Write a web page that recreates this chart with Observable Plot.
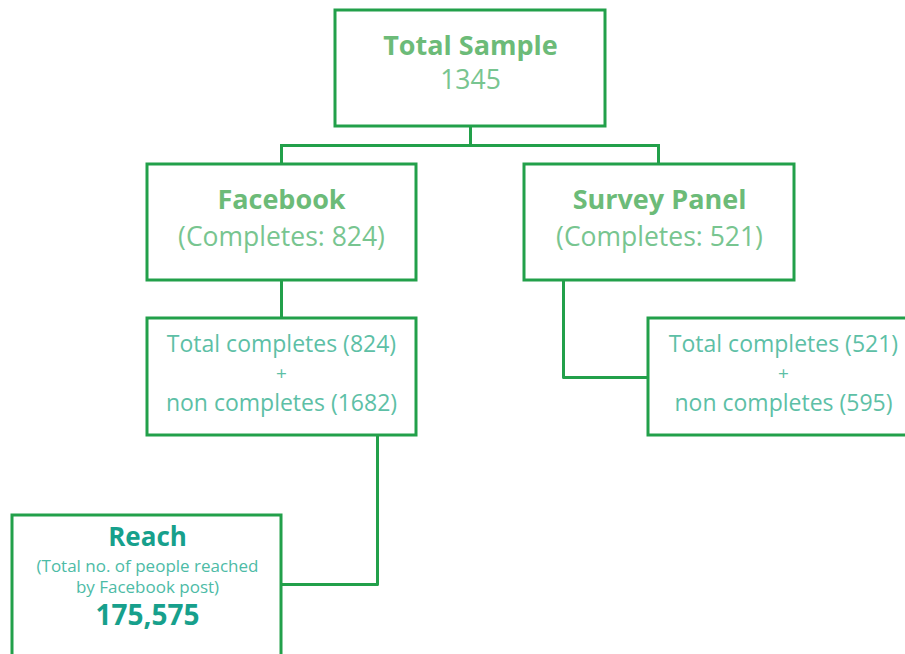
<!DOCTYPE html>
<html>
<head>
<meta charset="utf-8">
<script src="https://cdn.jsdelivr.net/npm/d3@7"></script>
<script src="https://cdn.jsdelivr.net/npm/@observablehq/plot@0.6"></script>
<style>
  html, body { margin: 0; padding: 0; background: #ffffff; }
  #chart svg { display: block; }
</style>
</head>
<body>
<div id="chart"></div>
<script>
// Boxes of the flowchart
const boxNames  = ["Total Sample", "Facebook", "Survey Panel", "Facebook detail", "Survey detail", "Reach"];
const boxLeft   = [335, 147, 524, 147, 648, 12];
const boxRight  = [605, 416, 794, 416, 915, 281];
const boxTop    = [10, 164, 164, 318, 318, 515];
const boxBottom = [126, 280, 280, 435, 435, 668];

// Connector polylines (id, x, y)
const linkId = [1, 1, 2, 2, 3, 3, 4, 4, 5, 5, 6, 6, 6, 7, 7, 7];
const linkX  = [470, 470, 281, 658, 281, 281, 658, 658, 281, 281, 563, 563, 648, 377, 377, 281];
const linkY  = [126, 145, 145, 145, 145, 164, 145, 164, 280, 318, 280, 377, 377, 435, 584, 584];

// Text labels
const titleText = ["Total Sample", "Facebook", "Survey Panel"];
const titleX = [470, 281, 659];
const titleY = [46, 200, 200];

const countText = ["1345", "(Completes: 824)", "(Completes: 521)"];
const countX = [470, 281, 659];
const countY = [80, 237, 237];

const detailText = ["Total completes (824)", "non completes (1682)",
                    "Total completes (521)", "non completes (595)"];
const detailX = [281, 281, 783, 783];
const detailY = [344, 403, 344, 403];

const plusText = ["+", "+"];
const plusX = [281, 783];
const plusY = [373, 373];

const reachHead = ["Reach"];
const reachHeadX = [147];
const reachHeadY = [537];
const reachNum = ["175,575"];
const reachNumX = [147];
const reachNumY = [616];
const reachSub = ["(Total no. of people reached", "by Facebook post)"];
const reachSubX = [147, 147];
const reachSubY = [566, 587];

const boxes = boxNames.map((n, i) => ({name: n, x1: boxLeft[i], x2: boxRight[i], y1: boxTop[i], y2: boxBottom[i]}));
const links = linkId.map((id, i) => ({id, x: linkX[i], y: linkY[i]}));
const mk = (t, xs, ys) => t.map((s, i) => ({text: s, x: xs[i], y: ys[i]}));

const font = "'Open Sans', 'Noto Sans', sans-serif";
const strokeGreen = "#22a04a";

const chart = Plot.plot({
  width: 905,
  height: 654,
  margin: 0,
  x: {domain: [0, 905], axis: null},
  y: {domain: [0, 654], reverse: true, axis: null},
  style: {fontFamily: font, background: "#ffffff"},
  marks: [
    Plot.line(links, {x: "x", y: "y", z: "id", stroke: strokeGreen, strokeWidth: 3, strokeLinecap: "square"}),
    Plot.rect(boxes, {x1: "x1", x2: "x2", y1: "y1", y2: "y2", fill: "white", stroke: strokeGreen, strokeWidth: 3}),
    Plot.text(mk(titleText, titleX, titleY), {x: "x", y: "y", text: "text", fontSize: 27, fontWeight: "bold", fill: "#6cbb78"}),
    Plot.text(mk(countText, countX, countY), {x: "x", y: "y", text: "text", fontSize: 26.5, fill: "#78c590"}),
    Plot.text(mk(detailText, detailX, detailY), {x: "x", y: "y", text: "text", fontSize: 23, fill: "#5dbfa6"}),
    Plot.text(mk(plusText, plusX, plusY), {x: "x", y: "y", text: "text", fontSize: 19, fill: "#5dbfa6"}),
    Plot.text(mk(reachHead, reachHeadX, reachHeadY), {x: "x", y: "y", text: "text", fontSize: 26, fontWeight: "bold", fill: "#17a08c"}),
    Plot.text(mk(reachNum, reachNumX, reachNumY), {x: "x", y: "y", text: "text", fontSize: 28, fontWeight: "bold", fill: "#17a08c"}),
    Plot.text(mk(reachSub, reachSubX, reachSubY), {x: "x", y: "y", text: "text", fontSize: 17, fill: "#4dbba6"})
  ]
});
document.getElementById("chart").appendChild(chart);
</script>
</body>
</html>
